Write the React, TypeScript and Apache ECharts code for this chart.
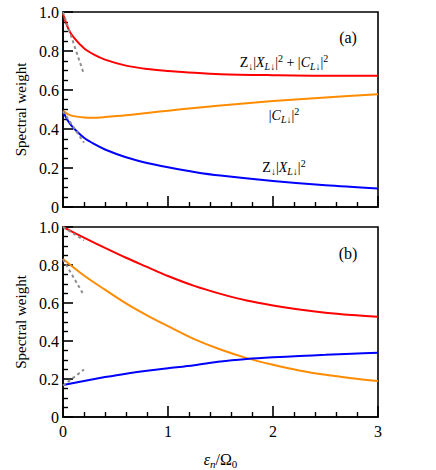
import React, { useEffect, useRef } from "react";
import * as echarts from "echarts";

// ---- Panel (a) ----
const xA = [0, 0.05, 0.1, 0.2, 0.3, 0.4, 0.6, 0.8, 1.0, 1.25, 1.5, 2.0, 2.5, 3.0];
const redA = [0.99, 0.915, 0.871, 0.814, 0.78, 0.756, 0.725, 0.708, 0.698, 0.688, 0.681, 0.676, 0.673, 0.673];
const orangeA = [0.493, 0.475, 0.466, 0.459, 0.458, 0.461, 0.47, 0.482, 0.494, 0.508, 0.52, 0.543, 0.562, 0.578];
const blueA = [0.49, 0.44, 0.405, 0.355, 0.322, 0.295, 0.255, 0.226, 0.204, 0.18, 0.161, 0.133, 0.111, 0.095];
const dashXA = [0, 0.2];
const dashRedA = [1.0, 0.68];
const dashBlueA = [0.49, 0.33];

// ---- Panel (b) ----
const xB = [0, 0.2, 0.4, 0.6, 0.8, 1.0, 1.25, 1.5, 1.75, 2.0, 2.25, 2.5, 2.75, 3.0];
const redB = [1.0, 0.944, 0.89, 0.838, 0.79, 0.742, 0.69, 0.648, 0.613, 0.587, 0.566, 0.549, 0.537, 0.528];
const orangeB = [0.832, 0.745, 0.67, 0.598, 0.535, 0.478, 0.41, 0.355, 0.31, 0.275, 0.245, 0.222, 0.204, 0.189];
const blueB = [0.168, 0.19, 0.21, 0.228, 0.243, 0.256, 0.272, 0.292, 0.305, 0.314, 0.321, 0.327, 0.333, 0.338];
const dashXB = [0, 0.2];
const dashRedB = [1.0, 0.93];
const dashOrangeB = [0.83, 0.64];
const dashBlueB = [0.165, 0.25];

const xTicks = [0, 1, 2, 3];
const yTicks = [0, 0.2, 0.4, 0.6, 0.8, 1.0];

const panelLabels = ["(a)", "(b)"];
const yTitle = "Spectral weight";

const RED = "#ff0000";
const ORANGE = "#ff8c00";
const BLUE = "#0000ff";
const GRAY = "#8c8c8c";
const FONT = "Liberation Serif";

const pairs = (xs: number[], ys: number[]) => xs.map((x, i) => [x, ys[i]]);

const App: React.FC = () => {
  const ref = useRef<HTMLDivElement>(null);

  useEffect(() => {
    if (!ref.current) return;
    const chart = echarts.init(ref.current, undefined, { renderer: "svg" });

    const grids = [
      { left: 63, top: 12, width: 315, height: 195 },
      { left: 63, top: 227, width: 315, height: 195 },
    ].map((g) => ({
      ...g,
      show: true,
      borderColor: "#000",
      borderWidth: 1.6,
      backgroundColor: "transparent",
      containLabel: false,
    }));

    const xAxisBase = (gi: number, showLabels: boolean) => ({
      type: "value" as const,
      gridIndex: gi,
      min: xTicks[0],
      max: xTicks[xTicks.length - 1],
      interval: 1,
      axisLine: { show: true, lineStyle: { color: "#000", width: 1.6 } },
      axisTick: { show: true, inside: true, length: 11, lineStyle: { color: "#000", width: 1.6 } },
      minorTick: { show: true, splitNumber: 5, length: 5, lineStyle: { color: "#000", width: 1.4 } },
      splitLine: { show: false },
      axisLabel: {
        show: showLabels,
        fontFamily: FONT,
        fontSize: 16,
        color: "#000",
        margin: 6,
      },
      name: showLabels ? "{i|ε}{isub|n}{m|/Ω}{sub|0}" : "",
      nameLocation: "middle" as const,
      nameGap: 33,
      nameTextStyle: {
        fontFamily: FONT,
        rich: {
          i: { fontFamily: FONT, fontStyle: "italic", fontSize: 16, color: "#000" },
          isub: { fontFamily: FONT, fontStyle: "italic", fontSize: 11, color: "#000", padding: [8, 0, 0, 0] },
          m: { fontFamily: FONT, fontSize: 16, color: "#000" },
          sub: { fontFamily: FONT, fontSize: 11, color: "#000", padding: [8, 0, 0, 0] },
        },
      },
    });

    const yAxisBase = (gi: number) => ({
      type: "value" as const,
      gridIndex: gi,
      min: yTicks[0],
      max: yTicks[yTicks.length - 1],
      interval: 0.2,
      axisLine: { show: true, lineStyle: { color: "#000", width: 1.6 } },
      axisTick: { show: true, inside: true, length: 10, lineStyle: { color: "#000", width: 1.6 } },
      minorTick: { show: true, splitNumber: 4, length: 5, lineStyle: { color: "#000", width: 1.4 } },
      splitLine: { show: false },
      axisLabel: {
        fontFamily: FONT,
        fontSize: 16,
        color: "#000",
        margin: 4,
        formatter: (v: number) => (v === 0 ? "0" : v.toFixed(1)),
      },
      name: yTitle,
      nameLocation: "middle" as const,
      nameGap: 33,
      nameTextStyle: { fontFamily: FONT, fontSize: 15, color: "#000" },
    });

    const solid = (gi: number, xs: number[], ys: number[], color: string, z = 3) => ({
      type: "line" as const,
      xAxisIndex: gi,
      yAxisIndex: gi,
      data: pairs(xs, ys),
      smooth: 0.3,
      showSymbol: false,
      symbol: "none",
      lineStyle: { color, width: 2 },
      z,
    });

    const dashed = (gi: number, xs: number[], ys: number[]) => ({
      type: "line" as const,
      xAxisIndex: gi,
      yAxisIndex: gi,
      data: pairs(xs, ys),
      showSymbol: false,
      symbol: "none",
      lineStyle: { color: GRAY, width: 2, type: [3, 3] as any },
      z: 4,
    });

    const rich = {
      m: { fontFamily: FONT, fontSize: 14, fill: "#000", color: "#000" },
      i: { fontFamily: FONT, fontStyle: "italic", fontSize: 14, fill: "#000", color: "#000" },
      sub: { fontFamily: FONT, fontSize: 10, fill: "#000", color: "#000", padding: [8, 0, 0, 0] },
      isub: { fontFamily: FONT, fontStyle: "italic", fontSize: 10, fill: "#000", color: "#000", padding: [8, 0, 0, 0] },
      sup: { fontFamily: FONT, fontSize: 10, fill: "#000", color: "#000", padding: [0, 0, 8, 0] },
    };

    const textEl = (x: number, y: number, text: string, size = 14) => ({
      type: "text" as const,
      x,
      y,
      z: 10,
      style: {
        text,
        rich,
        fontFamily: FONT,
        fontSize: size,
        fill: "#000",
        align: "center",
        verticalAlign: "middle",
      },
    });

    chart.setOption({
      animation: false,
      backgroundColor: "#fff",
      textStyle: { fontFamily: FONT },
      grid: grids,
      xAxis: [xAxisBase(0, false), xAxisBase(1, true)],
      yAxis: [yAxisBase(0), yAxisBase(1)],
      series: [
        solid(0, xA, redA, RED),
        solid(0, xA, orangeA, ORANGE),
        solid(0, xA, blueA, BLUE),
        dashed(0, dashXA, dashRedA),
        dashed(0, dashXA, dashBlueA),
        solid(1, xB, redB, RED),
        solid(1, xB, orangeB, ORANGE),
        solid(1, xB, blueB, BLUE),
        dashed(1, dashXB, dashRedB),
        dashed(1, dashXB, dashOrangeB),
        dashed(1, dashXB, dashBlueB),
      ],
      graphic: [
        textEl(348, 37, panelLabels[0], 16),
        textEl(348, 253, panelLabels[1], 16),
        textEl(284, 62, "{m|Z}{sub|↓}{m||}{i|X}{isub|L}{sub|↓}{m||}{sup|2}{m| + |}{i|C}{isub|L}{sub|↓}{m||}{sup|2}"),
        textEl(284, 115, "{m||}{i|C}{isub|L}{sub|↓}{m||}{sup|2}"),
        textEl(284, 167, "{m|Z}{sub|↓}{m||}{i|X}{isub|L}{sub|↓}{m||}{sup|2}"),
      ],
    });

    return () => chart.dispose();
  }, []);

  return (
    <div
      ref={ref}
      style={{ position: "fixed", left: 0, top: 0, width: 436, height: 470, background: "#fff" }}
    />
  );
};

export default App;
